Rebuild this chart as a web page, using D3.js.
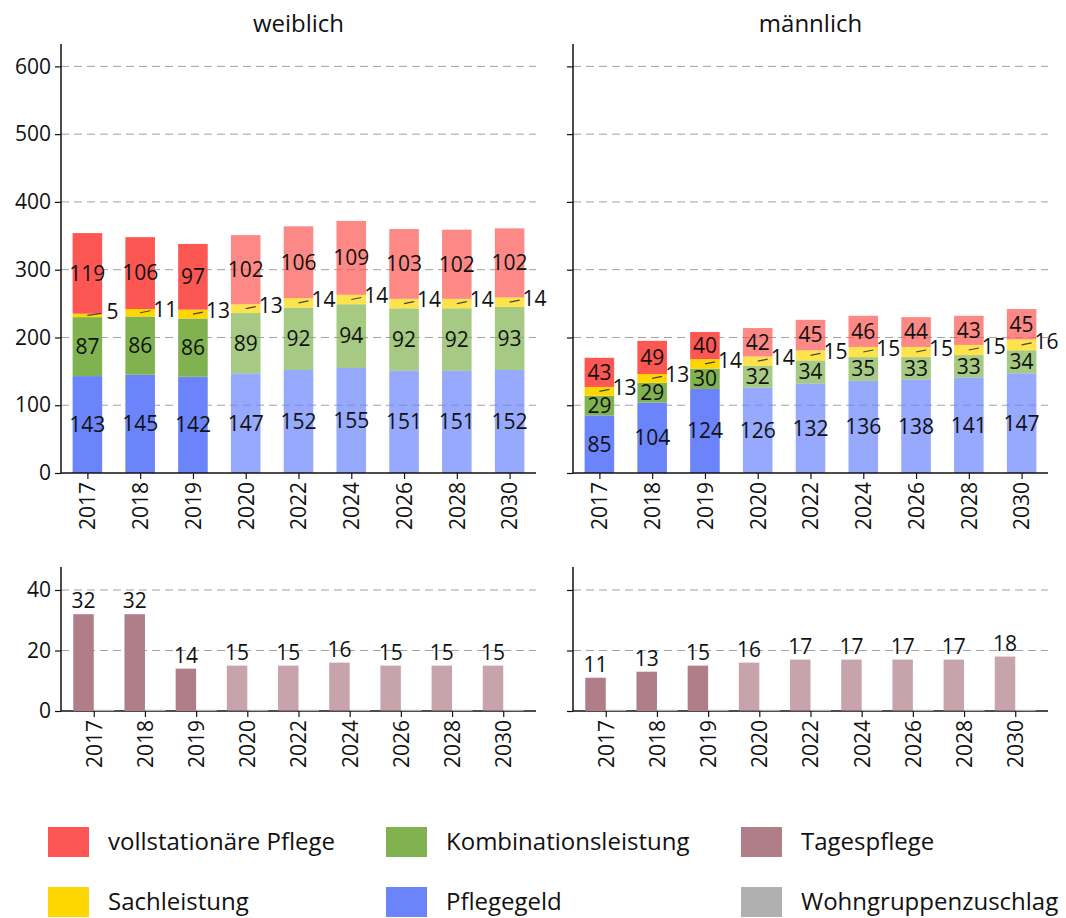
<!DOCTYPE html>
<html>
<head>
<meta charset="utf-8">
<script src="https://cdn.jsdelivr.net/npm/d3@7"></script>
<style>
  body { margin: 0; background: #fff; }
  svg text { font-family: "Open Sans", "Noto Sans", sans-serif; fill: #111; }
</style>
</head>
<body>
<div id="chart"></div>
<script>
// Jahre (ab 2020 Prognose)
const jahre = ["2017", "2018", "2019", "2020", "2022", "2024", "2026", "2028", "2030"];
const istJahre = ["2017", "2018", "2019"];

// weiblich
const pflegegeldW = [143, 145, 142, 147, 152, 155, 151, 151, 152];
const kombiW = [87, 86, 86, 89, 92, 94, 92, 92, 93];
const sachW = [5, 11, 13, 13, 14, 14, 14, 14, 14];
const vollstatW = [119, 106, 97, 102, 106, 109, 103, 102, 102];
const tagesW = [32, 32, 14, 15, 15, 16, 15, 15, 15];
const wohnW = [0.4, 0.4, 0.4, 0.4, 0.4, 0.4, 0.4, 0.4, 0.4];

// männlich
const pflegegeldM = [85, 104, 124, 126, 132, 136, 138, 141, 147];
const kombiM = [29, 29, 30, 32, 34, 35, 33, 33, 34];
const sachM = [13, 13, 14, 14, 15, 15, 15, 15, 16];
const vollstatM = [43, 49, 40, 42, 45, 46, 44, 43, 45];
const tagesM = [11, 13, 15, 16, 17, 17, 17, 17, 18];
const wohnM = [0.4, 0.4, 0.4, 0.4, 0.4, 0.4, 0.4, 0.4, 0.4];

const topTicks = [0, 100, 200, 300, 400, 500, 600];
const bottomTicks = [0, 20, 40];

const farben = {
  vollstat: "#fc5753",
  sach: "#ffd700",
  kombi: "#80b350",
  pflegegeld: "#6b84fb",
  tages: "#af7e88",
  wohn: "#b0b0b0"
};

const W = 1066, H = 918;
const svg = d3.select("#chart").append("svg").attr("width", W).attr("height", H);

const panels = [
  { titel: "weiblich", x0: 61, x1: 536, labels: true,
    stapel: [pflegegeldW, kombiW, sachW, vollstatW], tages: tagesW, wohn: wohnW },
  { titel: "männlich", x0: 573, x1: 1048, labels: false,
    stapel: [pflegegeldM, kombiM, sachM, vollstatM], tages: tagesM, wohn: wohnM }
];
const stapelFarben = [farben.pflegegeld, farben.kombi, farben.sach, farben.vollstat];

// y-Skalen
const yTop = d3.scaleLinear().domain([0, 633]).range([473, 44]);
const yBot = d3.scaleLinear().domain([0, 47.6]).range([711, 567]);

panels.forEach(p => {
  // Titel
  svg.append("text")
    .attr("x", (p.x0 + p.x1) / 2).attr("y", 32)
    .attr("text-anchor", "middle")
    .style("font-size", "24px")
    .text(p.titel);

  // ---- oberes Diagramm ----
  const x = d3.scalePoint().domain(jahre).range([p.x0, p.x1]).padding(0.5);
  const bw = x.step() * 0.56;

  // Gitterlinien
  svg.append("g").selectAll("line")
    .data(topTicks.filter(d => d > 0))
    .join("line")
    .attr("x1", p.x0).attr("x2", p.x1)
    .attr("y1", d => yTop(d)).attr("y2", d => yTop(d))
    .attr("stroke", "#a0a0a0").attr("stroke-width", 1)
    .attr("stroke-dasharray", "8,5");

  const daten = jahre.map((j, i) => {
    let basis = 0;
    const teile = p.stapel.map((s, k) => {
      const t = { jahr: j, k: k, y0: basis, y1: basis + s[i], v: s[i] };
      basis += s[i];
      return t;
    });
    return teile;
  }).flat();

  const g = svg.append("g");
  g.selectAll("rect")
    .data(daten)
    .join("rect")
    .attr("x", d => x(d.jahr) - bw / 2)
    .attr("width", bw)
    .attr("y", d => yTop(d.y1))
    .attr("height", d => yTop(d.y0) - yTop(d.y1))
    .attr("fill", d => stapelFarben[d.k])
    .attr("fill-opacity", d => istJahre.includes(d.jahr) ? 1 : 0.7);

  // Beschriftungen in den Segmenten
  g.selectAll("text.in")
    .data(daten.filter(d => d.k !== 2))
    .join("text")
    .attr("class", "in")
    .attr("x", d => x(d.jahr))
    .attr("y", d => yTop((d.y0 + d.y1) / 2))
    .attr("dy", "0.35em")
    .attr("text-anchor", "middle")
    .style("font-size", "21px")
    .text(d => d.v);

  // Sachleistung: Beschriftung seitlich mit Linie
  const sach = daten.filter(d => d.k === 2);
  g.selectAll("line.lead")
    .data(sach)
    .join("line")
    .attr("class", "lead")
    .attr("x1", d => x(d.jahr))
    .attr("y1", d => yTop((d.y0 + d.y1) / 2))
    .attr("x2", d => x(d.jahr) + (d.v < 10 ? 14 : 10))
    .attr("y2", d => yTop((d.y0 + d.y1) / 2) - 2)
    .attr("stroke", "#444").attr("stroke-width", 1.2);
  g.selectAll("text.out")
    .data(sach)
    .join("text")
    .attr("class", "out")
    .attr("x", d => x(d.jahr) + 25)
    .attr("y", d => yTop((d.y0 + d.y1) / 2) - 3.5)
    .attr("dy", "0.35em")
    .attr("text-anchor", "middle")
    .style("font-size", "21px")
    .text(d => d.v);

  // Achsen
  const yAx = svg.append("g").attr("transform", `translate(${p.x0},0)`)
    .call(d3.axisLeft(yTop).tickValues(topTicks).tickSize(6).tickPadding(4)
      .tickFormat(p.labels ? d3.format("d") : ""));
  const xAx = svg.append("g").attr("transform", `translate(0,${yTop(0)})`)
    .call(d3.axisBottom(x).tickSize(6).tickPadding(4));
  xAx.selectAll("text")
    .attr("transform", function () { return `rotate(-90)`; })
    .attr("text-anchor", "end")
    .attr("x", -9).attr("y", 0).attr("dy", "0.35em");

  // ---- unteres Diagramm ----
  const xb = d3.scalePoint().domain(jahre).range([p.x0, p.x1]).padding(0.64);
  const bwb = xb.step() * 0.4;

  svg.append("g").selectAll("line")
    .data(bottomTicks.filter(d => d > 0))
    .join("line")
    .attr("x1", p.x0).attr("x2", p.x1)
    .attr("y1", d => yBot(d)).attr("y2", d => yBot(d))
    .attr("stroke", "#a0a0a0").attr("stroke-width", 1)
    .attr("stroke-dasharray", "8,5");

  const yAxB = svg.append("g").attr("transform", `translate(${p.x0},0)`)
    .call(d3.axisLeft(yBot).tickValues(bottomTicks).tickSize(6).tickPadding(4)
      .tickFormat(p.labels ? d3.format("d") : ""));
  const xAxB = svg.append("g").attr("transform", `translate(0,${yBot(0)})`)
    .call(d3.axisBottom(xb).tickSize(6).tickPadding(4));
  xAxB.selectAll("text")
    .attr("transform", "rotate(-90)")
    .attr("text-anchor", "end")
    .attr("x", -9).attr("y", 0).attr("dy", "0.35em");

  const gb = svg.append("g");
  gb.selectAll("rect.tages")
    .data(jahre.map((j, i) => ({ jahr: j, v: p.tages[i] })))
    .join("rect")
    .attr("class", "tages")
    .attr("x", d => xb(d.jahr) - bwb)
    .attr("width", bwb)
    .attr("y", d => yBot(d.v))
    .attr("height", d => yBot(0) - yBot(d.v))
    .attr("fill", farben.tages)
    .attr("fill-opacity", d => istJahre.includes(d.jahr) ? 1 : 0.7);
  gb.selectAll("rect.wohn")
    .data(jahre.map((j, i) => ({ jahr: j, v: p.wohn[i] })))
    .join("rect")
    .attr("class", "wohn")
    .attr("x", d => xb(d.jahr))
    .attr("width", bwb)
    .attr("y", d => yBot(d.v))
    .attr("height", d => yBot(0) - yBot(d.v))
    .attr("fill", farben.wohn);
  gb.selectAll("text")
    .data(jahre.map((j, i) => ({ jahr: j, v: p.tages[i] })))
    .join("text")
    .attr("x", d => xb(d.jahr) - bwb / 2)
    .attr("y", d => yBot(d.v) - 6)
    .attr("text-anchor", "middle")
    .style("font-size", "21px")
    .text(d => d.v);

  // Achsen-Stil
  [yAx, xAx, yAxB, xAxB].forEach(a => {
    a.selectAll("text").style("font-size", "21px").attr("fill", "#111");
    a.select(".domain").attr("stroke", "#111").attr("stroke-width", 1.5);
    a.selectAll(".tick line").attr("stroke", "#111").attr("stroke-width", 1.2);
  });
  [yAx, yAxB].forEach(a => a.select(".domain").attr("d", function () {
    const r = a === yAx ? yTop.range() : yBot.range();
    return `M0,${r[0]}V${r[1]}`;
  }));
  [xAx, xAxB].forEach(a => a.select(".domain").attr("d", `M${p.x0},0H${p.x1}`));
  // graue Balken liegen über der Achsenlinie
  gb.raise();
});

// Legende
const legende = [
  { name: "vollstationäre Pflege", farbe: farben.vollstat },
  { name: "Kombinationsleistung", farbe: farben.kombi },
  { name: "Tagespflege", farbe: farben.tages },
  { name: "Sachleistung", farbe: farben.sach },
  { name: "Pflegegeld", farbe: farben.pflegegeld },
  { name: "Wohngruppenzuschlag", farbe: farben.wohn }
];
const spaltenX = [48, 386, 741];
const zeilenY = [842, 902];
const lg = svg.append("g").selectAll("g")
  .data(legende)
  .join("g")
  .attr("transform", (d, i) => `translate(${spaltenX[i % 3]},${zeilenY[Math.floor(i / 3)]})`);
lg.append("rect").attr("x", 0).attr("y", -15).attr("width", 41).attr("height", 30)
  .attr("fill", d => d.farbe);
lg.append("text").attr("x", 60).attr("y", 0).attr("dy", "0.35em")
  .style("font-size", "24px")
  .text(d => d.name);
</script>
</body>
</html>
